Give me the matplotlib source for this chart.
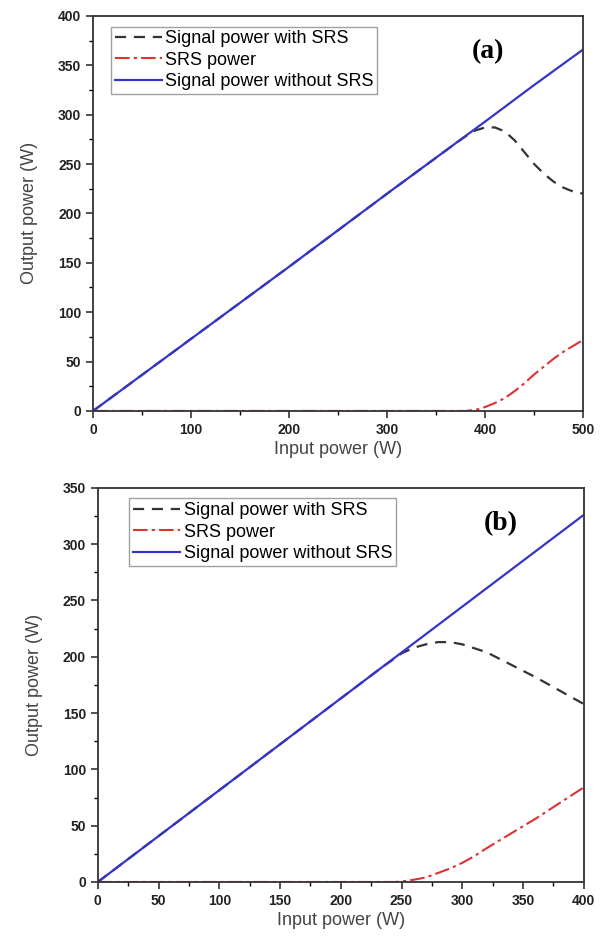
import numpy as np
import matplotlib; matplotlib.use("Agg")
import matplotlib.pyplot as plt
from matplotlib.ticker import MultipleLocator
plt.rcParams.update({"font.family":"Liberation Sans","font.size":10})

# panel (a)
xa_lin=[0,100,200,300,400,450,500]
ya_lin=[0,73,146,220,293,330,366]
xa_sig=[0,100,200,300,370,380,390,400,410,420,430,440,450,460,470,480,490,500]
ya_sig=[0,73,146,220,271,278,284,287,287,283,274,262,250,240,232,226,222,220]
xa_srs=[0,380,390,400,410,420,430,440,450,460,470,480,490,500]
ya_srs=[0,0,1,4,8,13,20,28,37,45,53,60,66,72]

# panel (b)
xb_lin=[0,100,200,300,400]
yb_lin=[0,81.5,163,244.5,326]
xb_sig=[0,100,200,235,245,250,260,270,280,290,300,320,340,360,380,400]
yb_sig=[0,81.5,163,191.5,199,203,208,211,213,213,211,204,193,182,170,158]
xb_srs=[0,245,250,260,270,280,290,300,310,320,340,360,380,400]
yb_srs=[0,0,0.5,2,4,8,12,17,23,30,43,56,70,84]

fig=plt.figure(figsize=(6,9.43),dpi=100)
axA=fig.add_axes([0.155,0.5642,0.817,0.419])
axB=fig.add_axes([0.163,0.0647,0.81,0.418])

def style(ax,xmax,ymax,xmaj,ymaj,tag,tagx,legx):
    ax.set_xlim(0,xmax); ax.set_ylim(0,ymax)
    ax.xaxis.set_major_locator(MultipleLocator(xmaj)); ax.xaxis.set_minor_locator(MultipleLocator(xmaj/2))
    ax.yaxis.set_major_locator(MultipleLocator(ymaj)); ax.yaxis.set_minor_locator(MultipleLocator(ymaj/2))
    ax.tick_params(which="major",direction="out",length=5,width=1.1,labelsize=10,colors="#222")
    ax.tick_params(which="minor",direction="out",length=3,width=1.0)
    for l in ax.get_xticklabels()+ax.get_yticklabels(): l.set_fontweight("bold")
    for sp in ax.spines.values(): sp.set_linewidth(1.3); sp.set_edgecolor("#333")
    ax.set_xlabel("Input power (W)",fontsize=13,color="#444",labelpad=3)
    ax.set_ylabel("Output power (W)",fontsize=13,color="#444",labelpad=14)
    ax.text(tagx,0.91,tag,transform=ax.transAxes,fontsize=20,fontweight="bold",
            family="Liberation Serif",ha="center",va="center")
    leg=ax.legend(loc="upper left",bbox_to_anchor=(legx,0.973),fontsize=13,fancybox=False,
                  borderpad=0.2,labelspacing=0.25,handlelength=2.6,handletextpad=0.2,borderaxespad=0)
    leg.get_frame().set_edgecolor("#888"); leg.get_frame().set_linewidth(1.0)

for ax,d in [(axA,(xa_sig,ya_sig,xa_srs,ya_srs,xa_lin,ya_lin)),(axB,(xb_sig,yb_sig,xb_srs,yb_srs,xb_lin,yb_lin))]:
    ax.plot(d[0],d[1],color="#333",ls=(0,(5,3.5)),lw=1.6,label="Signal power with SRS")
    ax.plot(d[2],d[3],color="#e03030",ls=(0,(7,2,1.5,2)),lw=1.5,label="SRS power")
    ax.plot(d[4],d[5],color="#3535cc",ls="-",lw=1.6,label="Signal power without SRS")

style(axA,500,400,100,50,"(a)",0.805,0.037)
style(axB,400,350,50,50,"(b)",0.83,0.065)
axB.yaxis.set_minor_locator(MultipleLocator(25))
axB.xaxis.set_minor_locator(MultipleLocator(25))
fig.savefig("out.png",dpi=100)
